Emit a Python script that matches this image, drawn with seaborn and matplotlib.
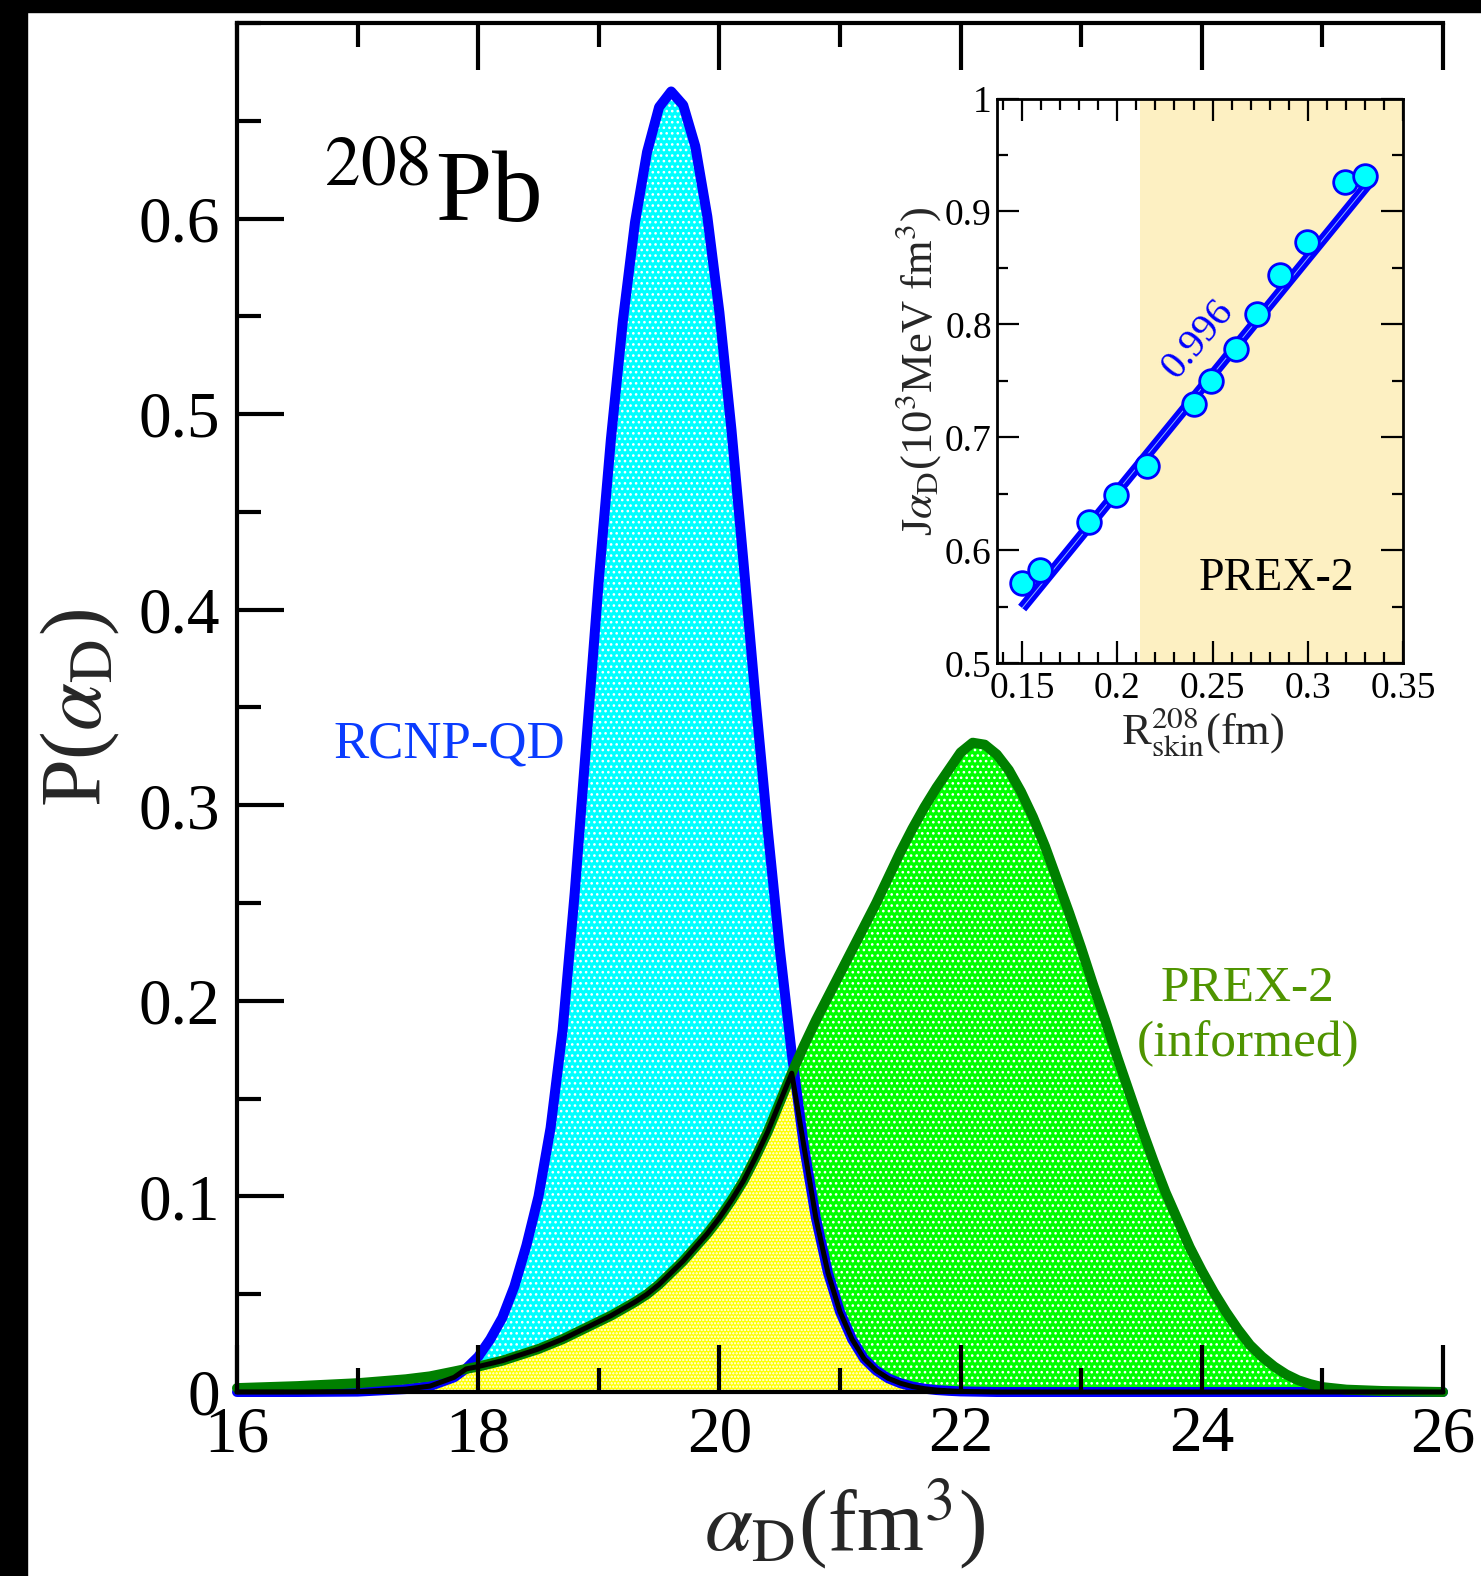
import numpy as np
import pandas as pd
import matplotlib
matplotlib.use("Agg")
import matplotlib.pyplot as plt
import seaborn as sns
from matplotlib.patches import Rectangle
from matplotlib.ticker import MultipleLocator, FixedLocator, FixedFormatter

# ---------------- data ----------------
alpha_x = [16.0, 16.5, 17.0, 17.4, 17.6,
           17.8, 17.9, 18.0, 18.1, 18.2, 18.3, 18.4, 18.5, 18.6, 18.7, 18.8, 18.9,
           19.0, 19.1, 19.2, 19.3, 19.4, 19.5, 19.6, 19.7, 19.8, 19.9,
           20.0, 20.1, 20.2, 20.3, 20.4, 20.5, 20.6, 20.7, 20.8, 20.9,
           21.0, 21.1, 21.2, 21.3, 21.4, 21.5, 21.6, 21.7, 21.8, 21.9,
           22.0, 22.1, 22.2, 22.3, 22.4, 22.5, 22.6, 22.7, 22.8, 22.9,
           23.0, 23.1, 23.2, 23.3, 23.4, 23.5, 23.6, 23.7, 23.8, 23.9,
           24.0, 24.1, 24.2, 24.3, 24.4, 24.5, 24.6, 24.7, 24.8, 24.9,
           25.0, 25.2, 25.5, 26.0]
p_rcnp = [0.0, 0.0, 0.0002, 0.0015, 0.003,
          0.0075, 0.012, 0.018, 0.027, 0.038, 0.054, 0.075, 0.100, 0.135, 0.185, 0.255, 0.335,
          0.415, 0.487, 0.548, 0.598, 0.634, 0.657, 0.665, 0.658, 0.637, 0.601,
          0.552, 0.492, 0.424, 0.354, 0.288, 0.227, 0.173, 0.126, 0.089, 0.061,
          0.041, 0.027, 0.017, 0.011, 0.007, 0.0045, 0.0028, 0.0017, 0.0010, 0.0006,
          0.0003, 0.0002, 0.0001, 0.0, 0.0, 0.0, 0.0, 0.0, 0.0, 0.0,
          0.0, 0.0, 0.0, 0.0, 0.0, 0.0, 0.0, 0.0, 0.0, 0.0,
          0.0, 0.0, 0.0, 0.0, 0.0, 0.0, 0.0, 0.0, 0.0, 0.0,
          0.0, 0.0, 0.0, 0.0]
p_prex = [0.002, 0.003, 0.0045, 0.0065, 0.008,
          0.0105, 0.0118, 0.013, 0.0145, 0.016, 0.018, 0.020, 0.022, 0.0245, 0.027, 0.030, 0.033,
          0.036, 0.039, 0.0425, 0.046, 0.050, 0.055, 0.061, 0.067, 0.074, 0.081,
          0.089, 0.098, 0.108, 0.120, 0.133, 0.148, 0.163, 0.177, 0.190, 0.202,
          0.214, 0.226, 0.238, 0.250, 0.263, 0.276, 0.288, 0.299, 0.309, 0.318,
          0.327, 0.332, 0.331, 0.326, 0.318, 0.307, 0.294, 0.279, 0.262, 0.245,
          0.227, 0.208, 0.190, 0.171, 0.153, 0.135, 0.118, 0.102, 0.088, 0.074,
          0.062, 0.051, 0.041, 0.032, 0.024, 0.018, 0.013, 0.009, 0.006, 0.004,
          0.0025, 0.0012, 0.0005, 0.0]

x_ticks = [16, 18, 20, 22, 24, 26]
x_ticklabels = ["16", "18", "20", "22", "24", "26"]
y_ticks = [0.0, 0.1, 0.2, 0.3, 0.4, 0.5, 0.6]
y_ticklabels = ["0", "0.1", "0.2", "0.3", "0.4", "0.5", "0.6"]

# inset: models
rskin = [0.150, 0.1595, 0.1849, 0.1991, 0.2156, 0.2404, 0.2494, 0.2621, 0.2732, 0.2853, 0.2996, 0.3197, 0.3302]
j_alpha = [0.571, 0.583, 0.625, 0.649, 0.675, 0.730, 0.750, 0.7785, 0.809, 0.844, 0.873, 0.926, 0.9315]
fit_x = [0.150, 0.332]
fit_y = [0.549, 0.925]
prex_band = [0.212, 0.35]
in_x_ticks = [0.15, 0.2, 0.25, 0.3, 0.35]
in_x_ticklabels = ["0.15", "0.2", "0.25", "0.3", "0.35"]
in_y_ticks = [0.5, 0.6, 0.7, 0.8, 0.9, 1.0]
in_y_ticklabels = ["0.5", "0.6", "0.7", "0.8", "0.9", "1"]
corr_label = "0.996"

# ---------------- style ----------------
sns.set_theme(style="white")
plt.rcParams['font.family'] = ['Liberation Serif', 'DejaVu Serif']
plt.rcParams['mathtext.fontset'] = 'stix'
plt.rcParams['hatch.linewidth'] = 1.1

W, H = 1481, 1576
fig = plt.figure(figsize=(W / 100, H / 100), dpi=100)
fig.patch.set_facecolor('white')

# black frame bands (top and left)
fig.add_artist(Rectangle((0, 1 - 12 / H), 1, 12 / H, transform=fig.transFigure, color='black', zorder=10))
fig.add_artist(Rectangle((0, 0), 27 / W, 1, transform=fig.transFigure, color='black', zorder=10))

ax = fig.add_axes([237 / W, 1 - 1392 / H, (1443 - 237) / W, (1392 - 23) / H])
ax.set_facecolor('white')

df = pd.DataFrame({'x': alpha_x, 'rcnp': p_rcnp, 'prex': p_prex})
df['overlap'] = np.minimum(df['rcnp'], df['prex'])

# fills
ax.fill_between(df['x'], 0, df['prex'], facecolor='#00ff00', edgecolor='white', hatch='...', linewidth=0, zorder=1)
ax.fill_between(df['x'], 0, df['rcnp'], facecolor='#00ffff', edgecolor='white', hatch='...', linewidth=0, zorder=1.1)
ax.fill_between(df['x'], 0, df['overlap'], facecolor='#ffff00', edgecolor='white', hatch='.....', linewidth=0, zorder=1.2)

# curves
sns.lineplot(data=df, x='x', y='rcnp', ax=ax, color='#0000ff', lw=7.2, sort=False, zorder=2, clip_on=False)
sns.lineplot(data=df, x='x', y='prex', ax=ax, color='#008000', lw=7.2, sort=False, zorder=2.1, clip_on=False)
sns.lineplot(data=df, x='x', y='overlap', ax=ax, color='black', lw=3.6, sort=False, zorder=2.2, clip_on=False)

ax.set_xlim(16, 26)
ax.set_ylim(0, 0.7)
ax.set_axisbelow(False)
for s in ['top', 'left', 'bottom']:
    ax.spines[s].set_visible(True)
    ax.spines[s].set_linewidth(3)
    ax.spines[s].set_color('black')
ax.spines['right'].set_visible(False)

ax.xaxis.set_major_locator(FixedLocator(x_ticks))
ax.xaxis.set_major_formatter(FixedFormatter(x_ticklabels))
ax.xaxis.set_minor_locator(MultipleLocator(1))
ax.yaxis.set_major_locator(FixedLocator(y_ticks))
ax.yaxis.set_major_formatter(FixedFormatter(y_ticklabels))
ax.yaxis.set_minor_locator(MultipleLocator(0.05))
ax.tick_params(axis='both', which='both', direction='in', width=3, colors='black')
ax.tick_params(axis='x', which='both', top=True, bottom=True)
ax.tick_params(axis='y', which='both', left=True, right=False)
ax.tick_params(which='major', length=34)
ax.tick_params(which='minor', length=17)
ax.tick_params(axis='x', which='major', labelsize=47, pad=10)
ax.tick_params(axis='y', which='major', labelsize=47, pad=12)

ax.set_xlabel(r'$\alpha_{\mathrm{D}}$(fm$^3$)', fontsize=62)
ax.xaxis.set_label_coords(0.504, -0.097)
ax.xaxis.label.set_verticalalignment('center')
ax.set_ylabel(r'P($\alpha_{\mathrm{D}}$)', fontsize=62)
ax.yaxis.set_label_coords(-0.13, 0.5)
ax.yaxis.label.set_verticalalignment('center')

ax.text(16.71, 0.598, r'$^{208}$Pb', fontsize=73, ha='left', va='baseline', color='black')
ax.text(17.76, 0.331, 'RCNP-QD', fontsize=38, ha='center', va='center', color='#0a3cff')
ax.text(24.38, 0.206, 'PREX-2', fontsize=37, ha='center', va='center', color='#4f9400')
ax.text(24.38, 0.178, '(informed)', fontsize=37, ha='center', va='center', color='#4f9400')

# ---------------- inset ----------------
iax = fig.add_axes([997.4 / W, 1 - 663.4 / H, (1403 - 997.4) / W, (663.4 - 98.5) / H])
iax.set_facecolor('white')
iax.axvspan(prex_band[0], prex_band[1], color='#fdf0c2', zorder=0, lw=0)
iax.plot(fit_x, fit_y, color='#0000ff', lw=7.5, solid_capstyle='butt', zorder=2)
iax.plot(fit_x, fit_y, color='#8fb4ff', lw=0.7, zorder=2.1)
sns.scatterplot(x=rskin, y=j_alpha, ax=iax, s=290, color='#00ffff', edgecolor='#0000ff',
                linewidth=2.0, zorder=3)
iax.set_xlim(0.137, 0.35)
iax.set_ylim(0.5, 1.0)
for s in iax.spines.values():
    s.set_visible(True)
    s.set_linewidth(2)
    s.set_color('black')
iax.xaxis.set_major_locator(FixedLocator(in_x_ticks))
iax.xaxis.set_major_formatter(FixedFormatter(in_x_ticklabels))
iax.xaxis.set_minor_locator(MultipleLocator(0.01))
iax.yaxis.set_major_locator(FixedLocator(in_y_ticks))
iax.yaxis.set_major_formatter(FixedFormatter(in_y_ticklabels))
iax.yaxis.set_minor_locator(MultipleLocator(0.05))
iax.tick_params(axis='both', which='both', direction='in', width=1.6, colors='black',
                top=True, bottom=True, left=True, right=True)
iax.tick_params(which='major', length=16)
iax.tick_params(which='minor', length=8)
iax.tick_params(axis='both', which='major', labelsize=27)
iax.tick_params(axis='x', which='major', pad=6)
iax.tick_params(axis='y', which='major', pad=4)

iax.set_xlabel(r'R$^{208}_{\mathrm{skin}}$(fm)', fontsize=32)
iax.xaxis.set_label_coords(0.506, -0.121)
iax.xaxis.label.set_verticalalignment('center')
iax.set_ylabel(r'J$\alpha_{\mathrm{D}}$(10$^3$MeV fm$^3$)', fontsize=32)
iax.yaxis.set_label_coords(-0.195, 0.516)
iax.yaxis.label.set_verticalalignment('center')

iax.text(0.2425, 0.787, corr_label, fontsize=29, rotation=50, ha='center', va='center', color='#0000ff')
iax.text(0.2838, 0.5747, 'PREX-2', fontsize=33, ha='center', va='center', color='black')

fig.savefig('out.png', dpi=100)
